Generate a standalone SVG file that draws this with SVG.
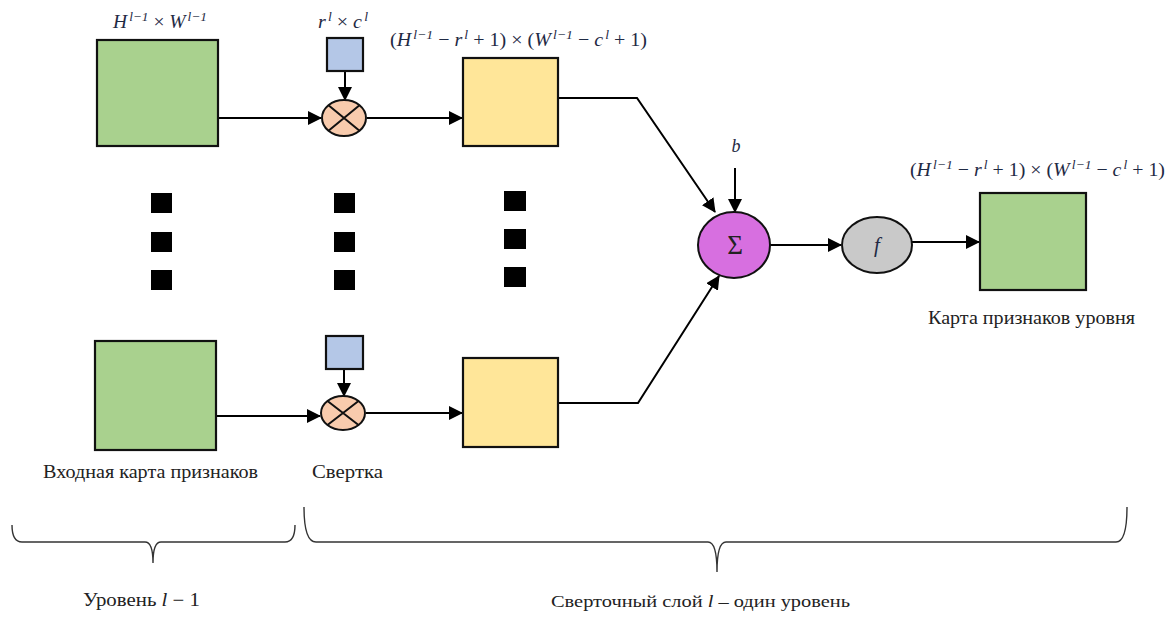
<svg xmlns="http://www.w3.org/2000/svg" width="1169" height="619" viewBox="0 0 1169 619">
  <style>
    .edge { stroke: #000; stroke-width: 2; fill: none; }
    .box { stroke: #111; stroke-width: 2.2; }
    .green { fill: #a9d18e; }
    .yellow { fill: #ffe699; }
    .kernel { fill: #b4c7e7; }
    .mult { fill: #f8cbad; stroke: #111; stroke-width: 2; }
    .dot { fill: #000; }
    .brace { stroke: #333; stroke-width: 1.4; fill: none; }
    .label { font-family: "Liberation Serif", "DejaVu Serif", serif; fill: #222; }
    .math { font-family: "Liberation Serif", "DejaVu Serif", serif; font-style: italic; fill: #1f2a44; }
    .up { font-size: 13px; }
  </style>
  <defs>
    <marker id="arrow" viewBox="0 0 14 14" refX="13" refY="7" markerWidth="14" markerHeight="14" markerUnits="userSpaceOnUse" orient="auto">
      <path d="M0,0 L14,7 L0,14 Z" fill="#000"/>
    </marker>
  </defs>

  <rect width="1169" height="619" fill="#fff"/>

  <!-- connectors -->
  <g id="connectors">
    <line class="edge" x1="218" y1="118" x2="321" y2="118" marker-end="url(#arrow)"/>
    <line class="edge" x1="345" y1="71" x2="345" y2="100" marker-end="url(#arrow)"/>
    <line class="edge" x1="367" y1="118" x2="462" y2="118" marker-end="url(#arrow)"/>
    <line class="edge" x1="216" y1="416" x2="320" y2="416" marker-end="url(#arrow)"/>
    <line class="edge" x1="344" y1="369" x2="344" y2="396" marker-end="url(#arrow)"/>
    <line class="edge" x1="366" y1="413" x2="462" y2="413" marker-end="url(#arrow)"/>
    <polyline class="edge" points="558,98 637,98 715,212" marker-end="url(#arrow)"/>
    <polyline class="edge" points="558,403 638,403 719,276" marker-end="url(#arrow)"/>
    <line class="edge" x1="735" y1="168" x2="735" y2="212" marker-end="url(#arrow)"/>
    <line class="edge" x1="770" y1="245" x2="841" y2="245" marker-end="url(#arrow)"/>
    <line class="edge" x1="912" y1="242" x2="979" y2="242" marker-end="url(#arrow)"/>
  </g>

  <!-- input feature maps -->
  <g id="input-top">
    <rect class="box green" x="97" y="40" width="121" height="106"/>
    <text class="math" x="113" y="28" font-size="19" textLength="94" lengthAdjust="spacingAndGlyphs">H<tspan class="up" dx="2" dy="-7">l−1</tspan><tspan dy="7" font-style="normal"> × </tspan>W<tspan class="up" dx="2" dy="-7">l−1</tspan></text>
  </g>
  <g id="input-bottom">
    <rect class="box green" x="95" y="341" width="121" height="109"/>
  </g>

  <!-- kernels -->
  <g id="kernel-top">
    <rect class="box kernel" x="327" y="38" width="36" height="33"/>
    <text class="math" x="318" y="28" font-size="19" textLength="50" lengthAdjust="spacingAndGlyphs">r<tspan class="up" dx="2" dy="-7">l</tspan><tspan dy="7" font-style="normal"> × </tspan>c<tspan class="up" dx="2" dy="-7">l</tspan></text>
  </g>
  <g id="kernel-bottom">
    <rect class="box kernel" x="326" y="336" width="37" height="33"/>
  </g>

  <!-- convolution operators -->
  <g id="conv-top">
    <ellipse class="mult" cx="344" cy="118" rx="22" ry="18"/>
    <path d="M328.5,105.3 L359.5,130.7 M359.5,105.3 L328.5,130.7" stroke="#111" stroke-width="2"/>
  </g>
  <g id="conv-bottom">
    <ellipse class="mult" cx="343" cy="413" rx="22" ry="17"/>
    <path d="M327.5,401 L358.5,425 M358.5,401 L327.5,425" stroke="#111" stroke-width="2"/>
  </g>

  <!-- convolution results -->
  <g id="result-top">
    <rect class="box yellow" x="463" y="58" width="95" height="88"/>
    <text class="math" x="390" y="46" font-size="19" textLength="257" lengthAdjust="spacingAndGlyphs"><tspan font-style="normal">(</tspan>H<tspan class="up" dx="2" dy="-7">l−1</tspan><tspan dy="7" font-style="normal"> − </tspan>r<tspan class="up" dx="2" dy="-7">l</tspan><tspan dy="7" font-style="normal"> + 1) × (</tspan>W<tspan class="up" dx="2" dy="-7">l−1</tspan><tspan dy="7" font-style="normal"> − </tspan>c<tspan class="up" dx="2" dy="-7">l</tspan><tspan dy="7" font-style="normal"> + 1)</tspan></text>
  </g>
  <g id="result-bottom">
    <rect class="box yellow" x="463" y="358" width="95" height="89"/>
  </g>

  <!-- ellipsis markers -->
  <g id="ellipsis">
    <rect class="dot" x="151" y="193" width="21" height="20"/>
    <rect class="dot" x="151" y="232" width="21" height="20"/>
    <rect class="dot" x="151" y="270" width="21" height="20"/>
    <rect class="dot" x="334" y="193" width="21" height="20"/>
    <rect class="dot" x="334" y="232" width="21" height="20"/>
    <rect class="dot" x="334" y="270" width="21" height="20"/>
    <rect class="dot" x="504" y="191" width="22" height="20"/>
    <rect class="dot" x="504" y="229" width="22" height="20"/>
    <rect class="dot" x="504" y="267" width="22" height="20"/>
  </g>

  <!-- summation with bias -->
  <g id="sum">
    <ellipse cx="734" cy="245" rx="36" ry="33" fill="#d76fe0" stroke="#111" stroke-width="2"/>
    <text class="label" x="735" y="254" font-size="27" text-anchor="middle" fill="#2a1a4a">Σ</text>
    <text class="math" x="736" y="152" font-size="18" text-anchor="middle">b</text>
  </g>

  <!-- activation -->
  <g id="activation">
    <ellipse cx="877" cy="245" rx="35" ry="28" fill="#c9c9c9" stroke="#111" stroke-width="2"/>
    <text class="math" x="877" y="252" font-size="21" text-anchor="middle">f</text>
  </g>

  <!-- output feature map -->
  <g id="output">
    <rect class="box green" x="980" y="193" width="106" height="97"/>
    <text class="math" x="910" y="176" font-size="19" textLength="255" lengthAdjust="spacingAndGlyphs"><tspan font-style="normal">(</tspan>H<tspan class="up" dx="2" dy="-7">l−1</tspan><tspan dy="7" font-style="normal"> − </tspan>r<tspan class="up" dx="2" dy="-7">l</tspan><tspan dy="7" font-style="normal"> + 1) × (</tspan>W<tspan class="up" dx="2" dy="-7">l−1</tspan><tspan dy="7" font-style="normal"> − </tspan>c<tspan class="up" dx="2" dy="-7">l</tspan><tspan dy="7" font-style="normal"> + 1)</tspan></text>
    <text class="label" x="928" y="324" font-size="18" textLength="207" lengthAdjust="spacingAndGlyphs">Карта признаков уровня</text>
  </g>

  <!-- captions -->
  <g id="captions">
    <text class="label" x="43" y="478" font-size="18" textLength="215" lengthAdjust="spacingAndGlyphs">Входная карта признаков</text>
    <text class="label" x="312" y="478" font-size="18" textLength="71" lengthAdjust="spacingAndGlyphs">Свертка</text>
  </g>

  <!-- level braces -->
  <g id="level-prev">
    <path class="brace" d="M12,525 Q12,542 22,542 L145,542 Q153,542 153,563 Q153,542 161,542 L285,542 Q295,542 295,525"/>
    <text class="label" x="83" y="606" font-size="18" textLength="117" lengthAdjust="spacingAndGlyphs">Уровень <tspan font-style="italic">l</tspan> − 1</text>
  </g>
  <g id="level-conv">
    <path class="brace" d="M304,507 Q304,542 316,542 L708,542 Q717,542 717,572 Q717,542 726,542 L1116,542 Q1127,542 1127,507"/>
    <text class="label" x="551" y="607" font-size="16" textLength="299" lengthAdjust="spacingAndGlyphs">Сверточный слой <tspan font-style="italic">l</tspan> – один уровень</text>
  </g>
</svg>
